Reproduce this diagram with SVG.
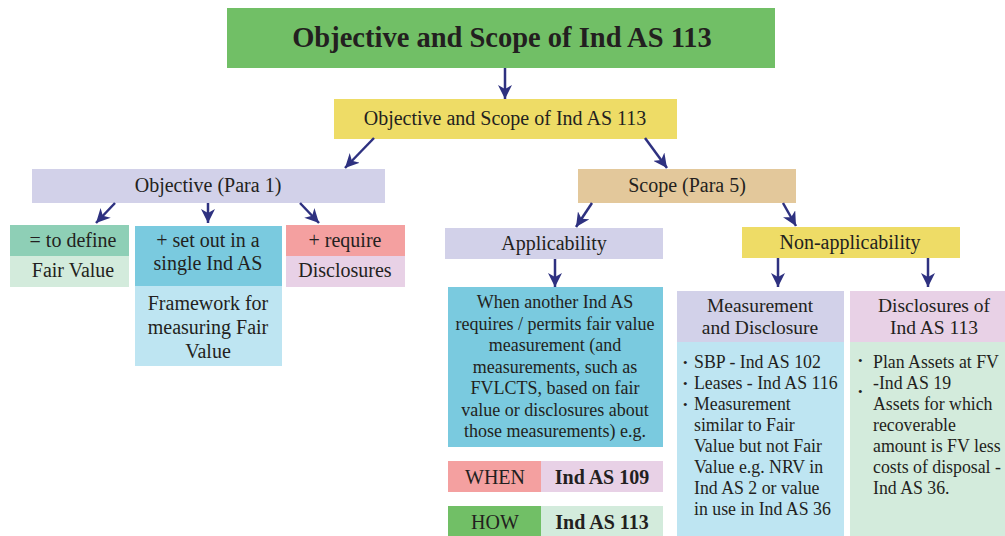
<svg xmlns="http://www.w3.org/2000/svg" width="1005" height="536" viewBox="0 0 1005 536">
<defs>
<style>
text{font-family:"Liberation Serif","DejaVu Serif",serif;fill:#231f20;font-size:20px}
.c{text-anchor:middle}
.b{font-weight:bold}
.s{font-size:18px}
.m{font-size:17.8px}
.h{font-size:19.5px}
.green{fill:#71bf66}.yellow{fill:#eedc66}.lav{fill:#d2d1e9}.tan{fill:#e3c89b}
.teal{fill:#8ecfb6}.lgreen{fill:#d3ebdc}.blue{fill:#7acadf}.lblue{fill:#bee5f2}
.red{fill:#f4a0a0}.lpink{fill:#e8d1e6}
.conn line{stroke:#2e3180;stroke-width:2.5;marker-end:url(#ah)}
.bul{font-size:13px}
</style>
<marker id="ah" markerUnits="userSpaceOnUse" viewBox="0 0 12 12" refX="12" refY="6" markerWidth="14" markerHeight="14" orient="auto">
<path d="M0,0 L12,6 L0,12 L3.5,6 z" fill="#2e3180"/>
</marker>
</defs>
<rect width="1005" height="536" fill="#ffffff"/>

<g id="title">
<rect class="green" x="227" y="8" width="548" height="60"/>
<text class="c b" x="502" y="47" style="font-size:28.5px">Objective and Scope of Ind AS 113</text>
</g>
<g id="sub">
<rect class="yellow" x="334" y="99" width="343" height="40"/>
<text class="c" x="505" y="125">Objective and Scope of Ind AS 113</text>
</g>
<g id="objective">
<rect class="lav" x="32" y="169" width="353" height="34"/>
<text class="c" x="208" y="192">Objective (Para 1)</text>
</g>
<g id="scope">
<rect class="tan" x="578" y="169" width="218" height="34"/>
<text class="c" x="687" y="192">Scope (Para 5)</text>
</g>

<g id="define">
<rect class="teal" x="10" y="225" width="119" height="31"/>
<rect class="lgreen" x="10" y="256" width="119" height="31"/>
<text class="c" x="73" y="247">= to define</text>
<text class="c" x="73" y="277">Fair Value</text>
</g>
<g id="setout">
<rect class="blue" x="135" y="226" width="147" height="60"/>
<rect class="lblue" x="135" y="286" width="147" height="80"/>
<text class="c" x="208" y="247">+ set out in a</text>
<text class="c" x="208" y="270">single Ind AS</text>
<text class="c" x="208" y="310">Framework for</text>
<text class="c" x="208" y="334">measuring Fair</text>
<text class="c" x="208" y="358">Value</text>
</g>
<g id="require">
<rect class="red" x="286" y="225" width="119" height="31"/>
<rect class="lpink" x="286" y="256" width="119" height="31"/>
<text class="c" x="345" y="247">+ require</text>
<text class="c" x="345" y="277">Disclosures</text>
</g>

<g id="applicability">
<rect class="lav" x="445" y="228" width="218" height="31"/>
<text class="c" x="554" y="250">Applicability</text>
</g>
<g id="app-detail">
<rect class="blue" x="448" y="287" width="215" height="160"/>
<text class="c s" x="555" y="308">When another Ind AS</text>
<text class="c s" x="555" y="330">requires / permits fair value</text>
<text class="c s" x="555" y="351">measurement  (and</text>
<text class="c s" x="555" y="373">measurements, such as</text>
<text class="c s" x="555" y="394">FVLCTS, based on fair</text>
<text class="c s" x="555" y="416">value or disclosures about</text>
<text class="c s" x="555" y="437">those measurements) e.g.</text>
</g>
<g id="when">
<rect class="red" x="448" y="461" width="93" height="31"/>
<rect class="lpink" x="541" y="461" width="122" height="31"/>
<text class="c" x="495" y="484">WHEN</text>
<text class="c b" x="602" y="484">Ind AS 109</text>
</g>
<g id="how">
<rect class="green" x="448" y="506" width="93" height="31"/>
<rect class="lgreen" x="541" y="506" width="122" height="31"/>
<text class="c" x="495" y="529">HOW</text>
<text class="c b" x="602" y="529">Ind AS 113</text>
</g>

<g id="nonapp">
<rect class="yellow" x="742" y="227" width="218" height="31"/>
<text class="c" x="850" y="249">Non-applicability</text>
</g>
<g id="measurement">
<rect class="lav" x="677" y="291" width="167" height="51"/>
<rect class="lblue" x="677" y="342" width="167" height="194"/>
<text class="c h" x="760" y="312">Measurement</text>
<text class="c h" x="760" y="334">and Disclosure</text>
<text class="bul" x="683" y="367">•</text>
<text class="m" x="694" y="368">SBP - Ind AS 102</text>
<text class="bul" x="683" y="388">•</text>
<text class="m" x="694" y="389">Leases - Ind AS 116</text>
<text class="bul" x="683" y="409">•</text>
<text class="m" x="694" y="410">Measurement</text>
<text class="m" x="694" y="431">similar to Fair</text>
<text class="m" x="694" y="452">Value but not Fair</text>
<text class="m" x="694" y="473">Value e.g. NRV in</text>
<text class="m" x="694" y="494">Ind AS 2 or value</text>
<text class="m" x="694" y="515">in use in Ind AS 36</text>
</g>
<g id="disclosures">
<rect class="lpink" x="850" y="291" width="155" height="51"/>
<rect class="lgreen" x="850" y="342" width="155" height="194"/>
<text class="c h" x="934" y="312">Disclosures of</text>
<text class="c h" x="934" y="334">Ind AS 113</text>
<text class="bul" x="858" y="365">•</text>
<text class="bul" x="858" y="396">•</text>
<text class="m" x="873" y="368">Plan Assets at FV</text>
<text class="m" x="873" y="389">-Ind AS 19</text>
<text class="m" x="873" y="410">Assets for which</text>
<text class="m" x="873" y="431">recoverable</text>
<text class="m" x="873" y="452">amount is FV less</text>
<text class="m" x="873" y="473">costs of disposal -</text>
<text class="m" x="873" y="494">Ind AS 36.</text>
</g>

<g id="connectors" class="conn">
<line x1="505" y1="68" x2="505" y2="99"/>
<line x1="374" y1="138" x2="345" y2="168"/>
<line x1="645" y1="138" x2="667" y2="168"/>
<line x1="115" y1="203" x2="96" y2="223"/>
<line x1="208" y1="203" x2="208" y2="223"/>
<line x1="300" y1="203" x2="319" y2="223"/>
<line x1="592" y1="203" x2="576" y2="227"/>
<line x1="783" y1="203" x2="796" y2="226"/>
<line x1="555" y1="259" x2="555" y2="287"/>
<line x1="778" y1="258" x2="778" y2="287"/>
<line x1="928" y1="258" x2="928" y2="287"/>
</g>
</svg>
